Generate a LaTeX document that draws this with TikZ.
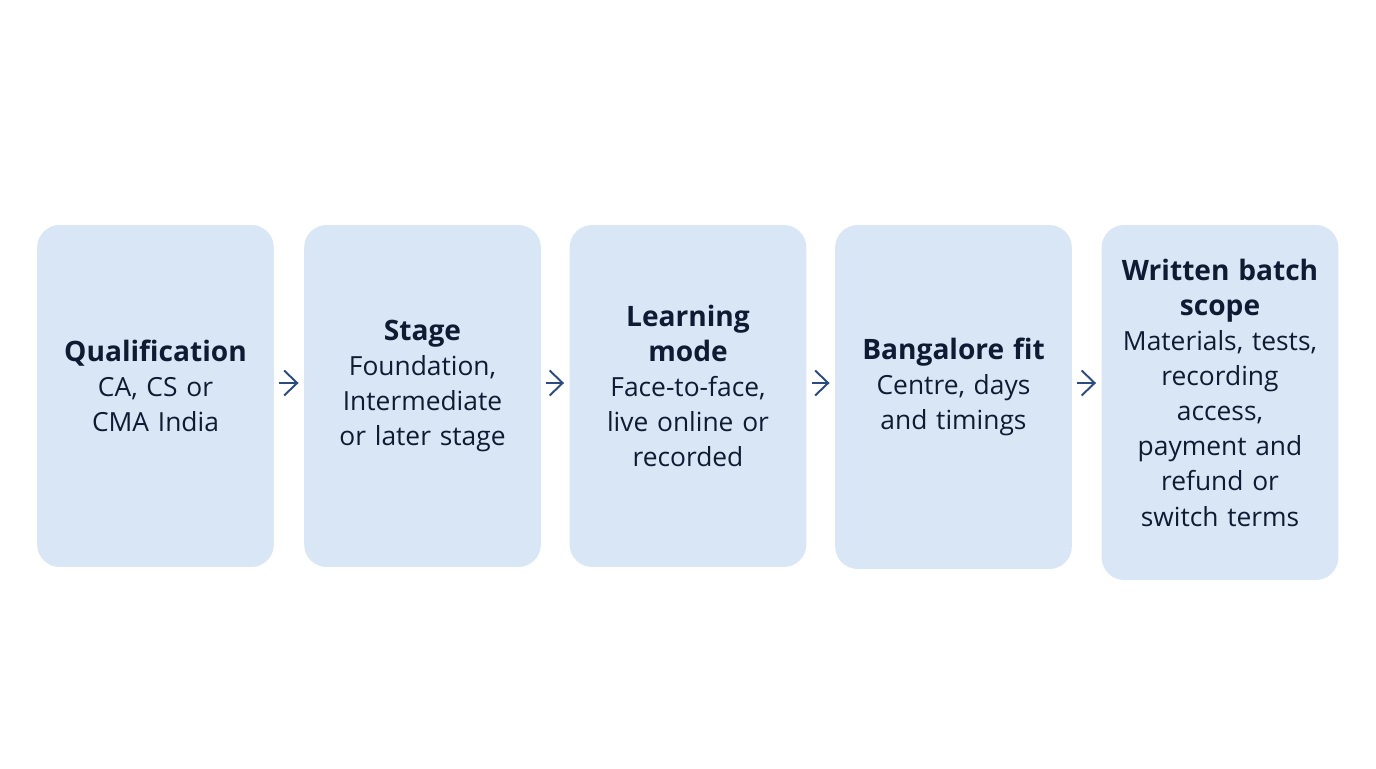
\documentclass[tikz,border=0pt]{standalone}
\usepackage{fontspec}
\setmainfont{Open Sans}
\usepackage{xcolor}
\usetikzlibrary{arrows.meta, positioning}
\definecolor{boxfill}{HTML}{D9E6F6}
\definecolor{ink}{HTML}{0F1B33}
\definecolor{arrowblue}{HTML}{2B4A7F}

\begin{document}
\begin{tikzpicture}[x=0.02cm, y=-0.02cm]
  \tikzset{
    stagebox/.style={fill=boxfill, rounded corners=0.45cm, minimum width=4.7cm,
      text width=4.5cm, align=center, text=ink, font=\fontsize{15}{20}\selectfont},
    flow/.style={-{Straight Barb[length=2.6mm, width=5mm]}, line width=1.1pt, draw=arrowblue, shorten <=3pt, shorten >=3pt}
  }
  \useasboundingbox (0,0) rectangle (1376,768);

  % Steps
  \node[stagebox, minimum height=6.84cm] (qual) at (155.5,396) {{\bfseries\fontsize{16}{20}\selectfont Qualification}\\CA, CS or\\CMA India\vspace*{0.4cm}};
  \node[stagebox, minimum height=6.84cm] (stage) at (422.5,396) {{\bfseries\fontsize{16}{20}\selectfont Stage}\\Foundation,\\Intermediate\\or later stage\vspace*{0.4cm}};
  \node[stagebox, minimum height=6.84cm] (mode) at (688,396) {{\bfseries\fontsize{16}{20}\selectfont Learning\\mode}\\Face-to-face,\\live online or\\recorded\vspace*{0.4cm}};
  \node[stagebox, minimum height=6.88cm] (fit) at (953.5,397) {{\bfseries\fontsize{16}{20}\selectfont Bangalore fit}\\Centre, days\\and timings\vspace*{0.4cm}};
  \node[stagebox, minimum height=7.1cm] (scope) at (1220,402.5) {{\bfseries\fontsize{16}{20}\selectfont Written batch\\scope}\\Materials, tests,\\recording\\access,\\payment and\\refund or\\switch terms\vspace*{0.4cm}};

  % Arrows
  \draw[flow] (qual.east |- 0,383) -- (stage.west |- 0,383);
  \draw[flow] (stage.east |- 0,383) -- (mode.west |- 0,383);
  \draw[flow] (mode.east |- 0,383) -- (fit.west |- 0,383);
  \draw[flow] (fit.east |- 0,383) -- (scope.west |- 0,383);
\end{tikzpicture}
\end{document}
